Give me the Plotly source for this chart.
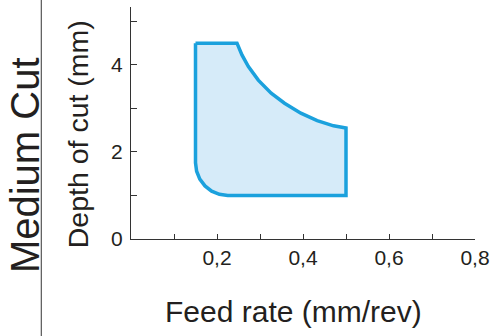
import plotly.graph_objects as go

# Boundary of the recommended operating region (feed rate mm/rev, depth of cut mm)
feed = [0.15, 0.2465, 0.258, 0.273, 0.296, 0.326, 0.357, 0.395, 0.433, 0.471, 0.50,
        0.50, 0.225, 0.2056, 0.1875, 0.172, 0.160, 0.1526, 0.15, 0.15]
depth = [4.5, 4.5, 4.23, 3.96, 3.65, 3.35, 3.12, 2.89, 2.72, 2.60, 2.55,
         1.0, 1.0, 1.026, 1.10, 1.22, 1.375, 1.556, 1.75, 4.5]

x_tickvals = [0.1, 0.2, 0.3, 0.4, 0.5, 0.6, 0.7, 0.8]
x_ticktext = ["", "0,2", "", "0,4", "", "0,6", "", "0,8"]
y_tickvals = [0, 1, 2, 3, 4, 5]
y_ticktext = ["0", "", "2", "", "4", ""]

FONT = "Liberation Sans, Arial, sans-serif"
TXT = "#231f20"

fig = go.Figure()
fig.add_trace(go.Scatter(
    x=feed, y=depth, mode="lines", fill="toself",
    fillcolor="#d6ebf9", line=dict(color="#1ba1dd", width=3.5),
    hoverinfo="skip", showlegend=False))

fig.update_layout(
    width=497, height=336,
    margin=dict(l=131, r=17, t=7, b=97),
    paper_bgcolor="white", plot_bgcolor="white",
    font=dict(family=FONT, color=TXT),
    xaxis=dict(range=[0, 0.8], showgrid=False, zeroline=False,
               showline=True, linecolor="#333", linewidth=1.2,
               ticks="inside", ticklen=5, tickcolor="#333", tickwidth=1,
               tickvals=x_tickvals, ticktext=x_ticktext,
               tickfont=dict(size=21, color=TXT, family=FONT)),
    yaxis=dict(range=[0, 5.33], showgrid=False, zeroline=False,
               showline=True, linecolor="#333", linewidth=1.2,
               ticks="inside", ticklen=6, tickcolor="#333", tickwidth=1,
               ticklabelstandoff=3,
               tickvals=y_tickvals, ticktext=y_ticktext,
               tickfont=dict(size=21, color=TXT, family=FONT)),
)

fig.add_annotation(text="Depth of cut (mm)", textangle=-90, showarrow=False,
                   xref="paper", yref="paper", x=-0.155, y=0.45,
                   xanchor="center", yanchor="middle",
                   font=dict(size=28.5, color=TXT, family=FONT))
fig.add_annotation(text="Feed rate (mm/rev)", showarrow=False,
                   xref="paper", yref="paper", x=0.472, y=-0.311,
                   xanchor="center", yanchor="middle",
                   font=dict(size=30, color=TXT, family=FONT))
fig.add_annotation(text="Medium Cut", textangle=-90, showarrow=False,
                   xref="paper", yref="paper", x=-0.31, y=0.32,
                   xanchor="center", yanchor="middle",
                   font=dict(size=40, color=TXT, family=FONT))
fig.add_shape(type="line", xref="paper", yref="paper",
              x0=-0.2607, x1=-0.2607, y0=-0.45, y1=1.06,
              line=dict(color="#555", width=1.2))

fig.write_html("out.html")
